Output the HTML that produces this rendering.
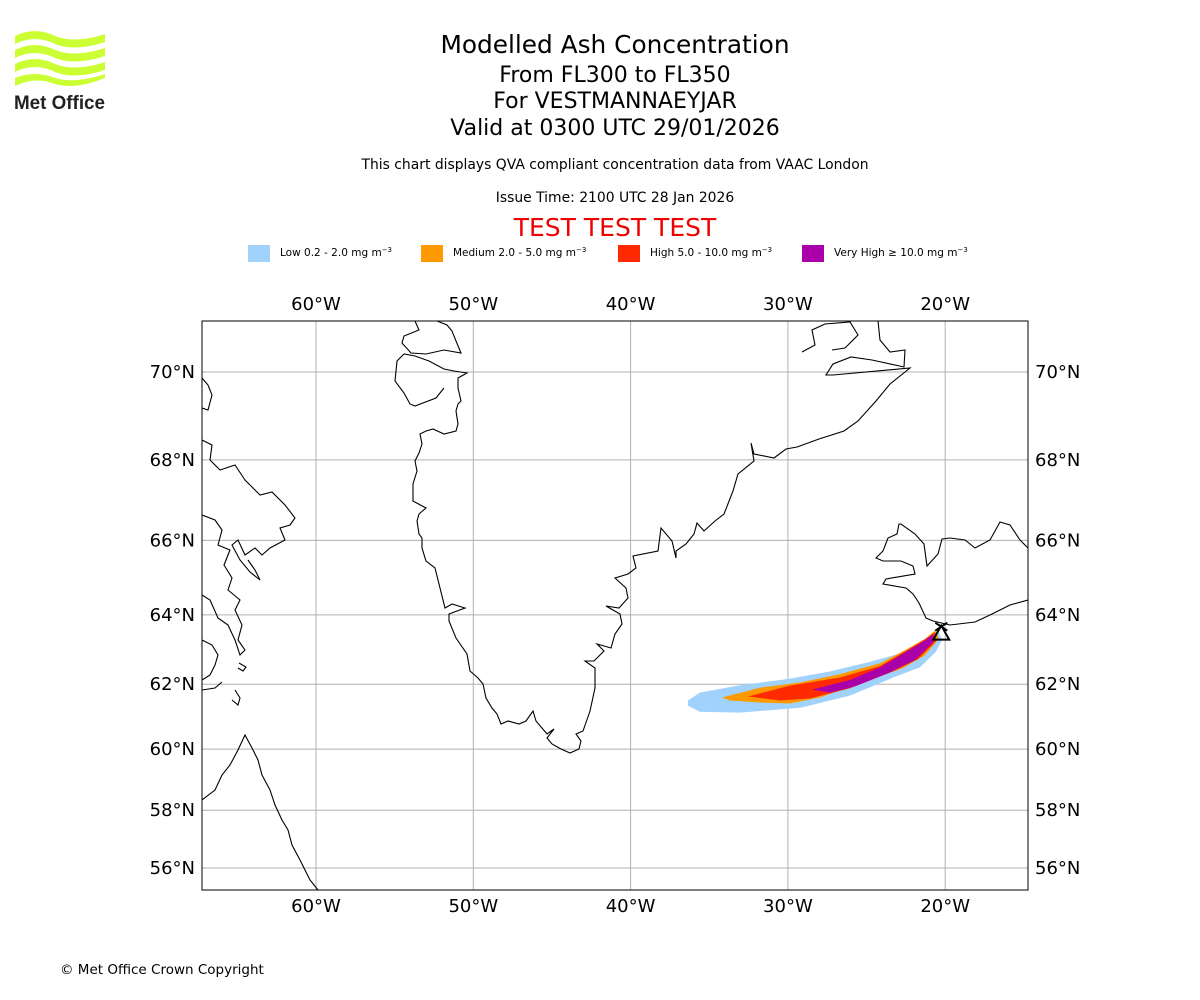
<!DOCTYPE html>
<html><head><meta charset="utf-8"><style>
body{margin:0;width:1200px;height:1000px;background:#fff;font-family:"DejaVu Sans","Liberation Sans",sans-serif;position:relative;overflow:hidden}
.t{position:absolute;left:0;width:1230px;text-align:center;color:#000;white-space:nowrap}
</style></head><body>
<svg style="position:absolute;left:10px;top:28px" width="100" height="85" viewBox="0 0 100 85">
<g fill="#ccff33">
<path d="M5 8 Q25 -2 45 8 Q65 16 95 6 L95 14 Q65 24 45 16 Q25 6 5 16Z"/>
<path d="M5 22 Q25 12 45 22 Q65 30 95 20 L95 28 Q65 38 45 30 Q25 20 5 30Z"/>
<path d="M5 36 Q25 26 45 36 Q65 44 95 34 L95 42 Q65 52 45 44 Q25 34 5 44Z"/>
<path d="M5 50 Q25 42 45 50 Q65 56 95 46 L95 50 Q65 62 45 56 Q25 48 5 58Z"/>
</g>
<text x="4" y="81" font-family="Liberation Sans,sans-serif" font-weight="bold" font-size="19" fill="#222" textLength="91" lengthAdjust="spacingAndGlyphs">Met Office</text>
</svg>
<div class="t" style="top:30px;font-size:24.8px">Modelled Ash Concentration</div>
<div class="t" style="top:63px;font-size:22px">From FL300 to FL350</div>
<div class="t" style="top:89px;font-size:22px">For VESTMANNAEYJAR</div>
<div class="t" style="top:116px;font-size:22px">Valid at 0300 UTC 29/01/2026</div>
<div class="t" style="top:157px;font-size:13.9px">This chart displays QVA compliant concentration data from VAAC London</div>
<div class="t" style="top:190px;font-size:13.9px">Issue Time: 2100 UTC 28 Jan 2026</div>
<div class="t" style="top:213px;font-size:25px;color:#e00">TEST TEST TEST</div>
<svg id="map" style="position:absolute;left:0;top:0" width="1200" height="1000"></svg>
<div style="position:absolute;left:60px;top:962px;font-size:13.5px">© Met Office Crown Copyright</div>
<script>
const lonTicks=[-60,-50,-40,-30,-20];
const latTicks=[56,58,60,62,64,66,68,70];
const levelNames=["Low 0.2 - 2.0 mg m","Medium 2.0 - 5.0 mg m","High 5.0 - 10.0 mg m","Very High \u2265 10.0 mg m"];
const levelColors=["#a0d2fc","#ff9900","#ff2a00","#aa00aa"];
const lowLon=[-36.35,-35.6,-33.05,-29.9,-27.3,-24.8,-22.9,-21.9,-20.97,-20.46,-20.2,-20.6,-21.6,-23.3,-26.05,-29.2,-33.05,-35.6,-36.35];
const lowLat=[61.51,61.75,61.97,62.16,62.38,62.66,62.9,63.15,63.42,63.56,63.3,62.95,62.5,62.2,61.66,61.29,61.14,61.17,61.35];
const medLon=[-34.19,-31.77,-29.23,-26.69,-24.14,-22.56,-21.28,-20.65,-20.4,-21.3,-22.67,-25.42,-27.96,-29.87,-31.77,-33.68];
const medLat=[61.6,61.9,62.05,62.3,62.62,63.0,63.33,63.56,63.33,62.85,62.48,62.03,61.6,61.42,61.45,61.51];
const highLon=[-32.54,-29.87,-26.69,-24.14,-22.56,-21.28,-20.65,-20.6,-21.72,-23.31,-26.05,-28.6,-30.5];
const highLat=[61.63,61.96,62.2,62.54,62.96,63.31,63.51,63.25,62.74,62.38,61.88,61.57,61.51];
const vhLon=[-28.47,-26.05,-24.14,-22.56,-21.28,-20.78,-20.77,-21.91,-23.63,-25.73,-27.32];
const vhLat=[61.84,62.13,62.5,62.93,63.28,63.46,63.22,62.72,62.33,61.94,61.75];
const volcanoLon=-20.25, volcanoLat=63.5;

const S=15.73, L=202, R=1028, T=321, B=890;
const merc=l=>Math.log(Math.tan(Math.PI/4+l*Math.PI/360))*180/Math.PI;
const X=lon=>316+(lon+60)*S;
const Y=lat=>372-(merc(lat)-merc(70))*S;
const NS="http://www.w3.org/2000/svg";
const svg=document.getElementById('map');
function mk(tag,attrs,parent){const e=document.createElementNS(NS,tag);for(const k in attrs)e.setAttribute(k,attrs[k]);(parent||svg).appendChild(e);return e;}

const lx=[248,421,618,802];
levelNames.forEach((n,i)=>{
  const r=mk('rect',{x:lx[i],y:245,width:22,height:17,fill:levelColors[i]});
  
  
  const t=mk('text',{x:lx[i]+32,y:256,'font-size':10.5,'font-family':'DejaVu Sans,sans-serif'});
  
  
  t.textContent=n;
  const s=mk('tspan',{dy:-4,'font-size':7},t);s.textContent='\u22123';
});

const clip=mk('clipPath',{id:'pc'});mk('rect',{x:L,y:T,width:R-L,height:B-T},clip);
lonTicks.forEach(v=>{
  const g=mk('line',{x1:X(v),x2:X(v),y1:T,y2:B,stroke:'#b0b0b0','stroke-width':1});
  
  
  [303,905].forEach(y=>{const t=mk('text',{x:X(v),y:y+7,'text-anchor':'middle','font-size':18});
    
    
    t.textContent=Math.abs(v)+'°W';});
});
latTicks.forEach(v=>{
  const g=mk('line',{x1:L,x2:R,y1:Y(v),y2:Y(v),stroke:'#b0b0b0','stroke-width':1});
  
  
  const a=mk('text',{x:195,y:Y(v)+6,'text-anchor':'end','font-size':18});
  
  
  a.textContent=v+'°N';
  const b=mk('text',{x:1035,y:Y(v)+6,'font-size':18});
  
  
  b.textContent=v+'°N';
});
const g=mk('g',{'clip-path':'url(#pc)'});
[[lowLon,lowLat],[medLon,medLat],[highLon,highLat],[vhLon,vhLat]].forEach((p,i)=>{
  const pts=p[0].map((lo,j)=>X(lo).toFixed(1)+','+Y(p[1][j]).toFixed(1)).join(' ');
  const pg=mk('polygon',{points:pts,fill:levelColors[i]},g);
  
  
});
const coasts=[
"415,321 419,330 404,336 402,343 411,353 426,354 444,350 461,353 456,341 452,331 447,325 437,321",
"878,321 880,340 890,352 905,350 904,367 872,360 851,357 833,364 826,375 833,375 910,368 890,384 876,401 858,421 844,431 819,439 797,447 786,449 774,458 754,454 751,443 754,461 738,474 733,491 724,514 715,521 704,531 697,523 694,534 686,544 676,551 676,558 672,541 661,528 658,551 633,556 636,568 628,574 615,578 626,588 628,598 619,608 606,606 620,614 622,624 615,634 611,648 597,644 604,651 594,661 585,661 595,668 595,688 590,711 583,731 576,734 581,741 579,749 570,753 561,749 552,744 547,738 554,729 547,734 536,721 533,711 526,721 519,724 508,721 501,724 497,714 492,708 486,698 483,684 478,678 470,671 467,654 456,638 449,621 449,614 465,608 452,604 445,608 440,588 435,568 426,561 422,548 422,538 419,534 417,521 419,514 426,508 413,501 413,484 417,471 415,461 419,453 422,444 420,434 426,431 433,429 444,434 456,431 458,424 456,411 458,404 461,401 458,388 458,378 467,373 454,371 444,369 429,361 415,356 404,354 397,361 395,381 404,393 410,404 415,406 436,398 444,388",
"802,352 815,345 812,330 825,324 850,322 858,335 845,348 832,350",
"1028,548 1020,540 1010,525 1000,522 990,540 975,548 965,540 950,538 942,539 938,554 927,566 924,544 915,534 901,524 899,524 897,534 888,538 883,551 876,558 883,561 901,561 913,566 915,574 886,579 883,584 906,588 913,594 919,603 926,618 933,621 950,625 975,622 990,615 1010,605 1028,600",
"202,378 208,385 212,395 208,410 202,408",
"202,440 212,445 210,460 220,470 235,465 245,480 260,495 272,492 285,505 295,518 290,525 280,528 285,540 270,548 262,555 255,548 245,555 238,540 232,545 240,560 250,572 260,580 255,570 248,560",
"202,515 215,520 222,530 218,545 230,550 224,565 232,578 228,590 240,600 235,610 242,625 238,640 245,650 240,655 235,640 228,625 218,618 210,600 202,595",
"202,640 212,645 218,655 215,665 210,675 202,680",
"202,690 215,688 222,682",
"235,690 240,698 238,705 232,700",
"202,800 215,790 222,775 230,765 238,750 245,735 252,748 258,760 262,775 270,790 275,805 282,820 288,830 292,845 300,860 305,870 310,880 318,890",
"239,663 246,667 243,671 238,668"
];
const cg=mk('g',{'clip-path':'url(#pc)',fill:'none',stroke:'#000','stroke-width':1.1});
coasts.forEach(c=>{const p=mk('polyline',{points:c},cg);
  
  });
const vx=X(volcanoLon),vy=Y(volcanoLat);
const vm=mk('path',{d:`M${vx-8},${vy+7} L${vx},${vy-7} L${vx+8},${vy+7}Z M${vx-6},${vy-10} L${vx+6},${vy-2} M${vx+6},${vy-10} L${vx-6},${vy-2}`,fill:'none',stroke:'#000','stroke-width':2});


const fr=mk('rect',{x:L,y:T,width:R-L,height:B-T,fill:'none',stroke:'#000','stroke-width':1});


</script>
</body></html>
